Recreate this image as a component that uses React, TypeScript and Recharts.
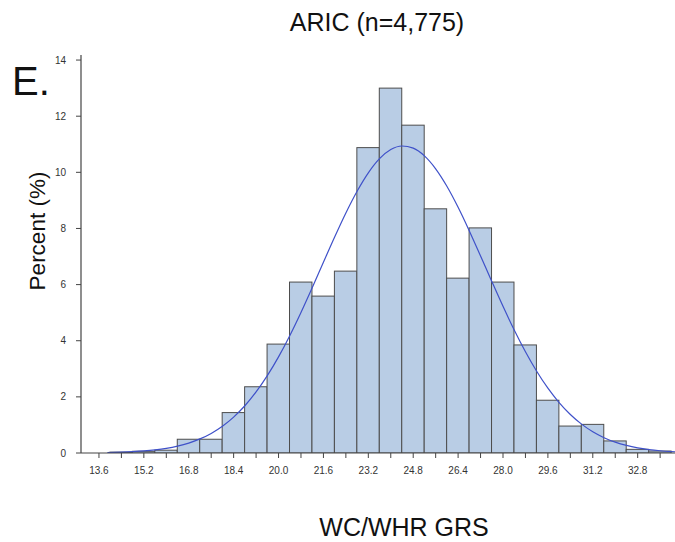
import React from 'react';
import { ComposedChart, Bar, Line, XAxis, YAxis } from 'recharts';

// Histogram bins (centres of 0.8-wide bins) and percent of participants
const binCenters = [13.6, 14.4, 15.2, 16.0, 16.8, 17.6, 18.4, 19.2, 20.0, 20.8, 21.6, 22.4, 23.2, 24.0, 24.8, 25.6, 26.4, 27.2, 28.0, 28.8, 29.6, 30.4, 31.2, 32.0, 32.8, 33.6];
const binPercents = [0, 0.03, 0.06, 0.1, 0.49, 0.49, 1.44, 2.36, 3.88, 6.09, 5.59, 6.48, 10.88, 13.0, 11.68, 8.7, 6.23, 8.02, 6.09, 3.85, 1.88, 0.96, 1.02, 0.43, 0.13, 0.07];

// Fitted normal curve
const curveX = [13.9, 14.4, 14.8, 15.2, 15.6, 16.0, 16.4, 16.8, 17.2, 17.6, 18.0, 18.4, 18.8, 19.2, 19.6, 20.0, 20.4, 20.8, 21.2, 21.6, 22.0, 22.4, 22.8, 23.2, 23.6, 24.0, 24.4, 24.8, 25.2, 25.6, 26.0, 26.4, 26.8, 27.2, 27.6, 28.0, 28.4, 28.8, 29.2, 29.6, 30.0, 30.4, 30.8, 31.2, 31.6, 32.0, 32.4, 32.8, 33.2, 33.6, 34.0, 34.2];
const curveY = [0.015, 0.029, 0.047, 0.073, 0.111, 0.166, 0.245, 0.354, 0.502, 0.698, 0.954, 1.279, 1.683, 2.174, 2.755, 3.425, 4.181, 5.009, 5.889, 6.795, 7.694, 8.551, 9.325, 9.982, 10.486, 10.811, 10.938, 10.861, 10.585, 10.124, 9.503, 8.753, 7.913, 7.021, 6.114, 5.225, 4.382, 3.607, 2.913, 2.31, 1.797, 1.372, 1.028, 0.756, 0.546, 0.387, 0.269, 0.183, 0.123, 0.081, 0.052, 0.041];

const xTickLabels = ['13.6', '15.2', '16.8', '18.4', '20.0', '21.6', '23.2', '24.8', '26.4', '28.0', '29.6', '31.2', '32.8'];
const yTicks = [0, 2, 4, 6, 8, 10, 12, 14];

const X_DOMAIN: [number, number] = [12.96, 34.13];
const Y_DOMAIN: [number, number] = [0, 14.18];

const W = 675;
const H = 542;
const MARGIN = { top: 55, right: 0, bottom: 59, left: 0 };
const Y_AXIS_W = 81;
const X_AXIS_H = 30;
const PLOT_W = W - MARGIN.right - MARGIN.left - Y_AXIS_W;
const BAR_PX = (0.8 * PLOT_W) / (X_DOMAIN[1] - X_DOMAIN[0]);

const FONT = '"Liberation Sans", Arial, sans-serif';

const bins = binCenters.map((x, i) => ({ x, pct: binPercents[i] }));
const curve = curveX.map((x, i) => ({ x, fit: curveY[i] }));

const XTick = (props: any) => {
  const { x, y, payload } = props;
  const label = payload.value.toFixed(1);
  if (!xTickLabels.includes(label)) return <g />;
  return (
    <text x={x} y={y} dy="0.75em" textAnchor="middle" fontSize={10} fill="#333" fontFamily={FONT}>
      {label}
    </text>
  );
};

// Histogram bar: centred on the library's x position, full bin width
const HistBar = (props: any) => {
  const { x, y, width, height } = props;
  if (!height || height <= 0) return <g />;
  const cx = x + width / 2;
  return (
    <rect
      x={cx - BAR_PX / 2}
      y={y}
      width={BAR_PX}
      height={height}
      fill="#b9cde5"
      stroke="#4d4d4d"
      strokeWidth={1}
    />
  );
};

export default function App() {
  return (
    <div style={{ position: 'absolute', left: 0, top: 0, width: W, height: H, background: '#fff' }}>
      <ComposedChart width={W} height={H} data={bins} margin={MARGIN}>
        <XAxis
          xAxisId="top"
          orientation="top"
          type="number"
          dataKey="x"
          domain={X_DOMAIN}
          allowDataOverflow
          height={0}
          tick={false}
          tickLine={false}
          axisLine={{ stroke: '#444', strokeWidth: 1.2 }}
        />
        <XAxis
          xAxisId="main"
          type="number"
          dataKey="x"
          domain={X_DOMAIN}
          allowDataOverflow
          ticks={binCenters}
          interval={0}
          height={X_AXIS_H}
          tickSize={5}
          tickMargin={8}
          tick={<XTick />}
          tickLine={{ stroke: '#444' }}
          axisLine={{ stroke: '#444', strokeWidth: 1.2 }}
        />
        <YAxis
          type="number"
          domain={Y_DOMAIN}
          allowDataOverflow
          ticks={yTicks}
          interval={0}
          width={Y_AXIS_W}
          tickSize={5}
          tickMargin={10}
          tick={{ fontSize: 10, fill: '#333', fontFamily: FONT }}
          tickLine={{ stroke: '#444' }}
          axisLine={{ stroke: '#444', strokeWidth: 1.2 }}
        />
        <Bar
          xAxisId="main"
          dataKey="pct"
          shape={<HistBar />}
          fill="#b9cde5"
          stroke="#4d4d4d"
          isAnimationActive={false}
        />
        <Line
          xAxisId="main"
          data={curve}
          dataKey="fit"
          type="monotone"
          stroke="#3f51c9"
          strokeWidth={1.2}
          dot={false}
          isAnimationActive={false}
        />
      </ComposedChart>
      <svg width={W} height={H} style={{ position: 'absolute', left: 0, top: 0, pointerEvents: 'none' }}>
        <text x={377} y={31} textAnchor="middle" fontSize={25} fill="#111" fontFamily={FONT}>
          ARIC (n=4,775)
        </text>
        <text x={12} y={95} fontSize={40} fill="#111" fontFamily={FONT}>
          E.
        </text>
        <text
          transform="translate(45,231) rotate(-90)"
          textAnchor="middle"
          fontSize={22.5}
          fill="#111"
          fontFamily={FONT}
        >
          Percent (%)
        </text>
        <text x={404} y={536} textAnchor="middle" fontSize={25} fill="#111" fontFamily={FONT}>
          WC/WHR GRS
        </text>
      </svg>
    </div>
  );
}
